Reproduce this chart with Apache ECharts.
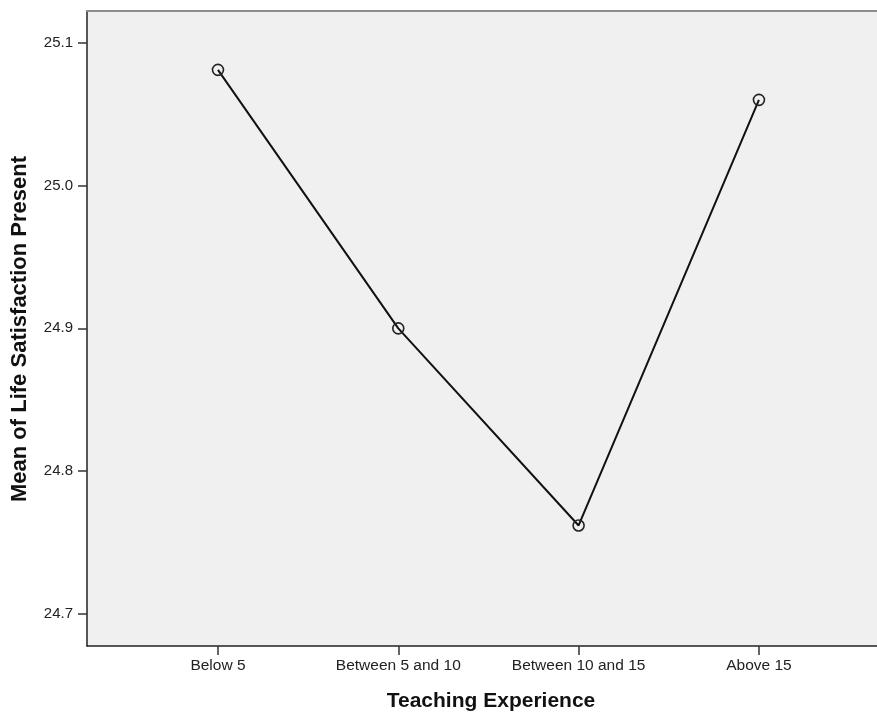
<!DOCTYPE html>
<html>
<head>
<meta charset="utf-8">
<script src="https://cdn.jsdelivr.net/npm/echarts@6/dist/echarts.min.js"></script>
<style>html,body{margin:0;padding:0;background:#fff;}#c{width:877px;height:715px;}</style>
</head>
<body>
<div id="c"></div>
<script>
const categories = ['Below 5', 'Between 5 and 10', 'Between 10 and 15', 'Above 15'];
const means = [25.081, 24.900, 24.762, 25.060];
const yTicks = [24.7, 24.8, 24.9, 25.0, 25.1];
const yMin = 24.6776, yMax = 25.1222;
const xTitle = 'Teaching Experience';
const yTitle = 'Mean of Life Satisfaction Present';

const FONT = '"Liberation Sans", Arial, sans-serif';
const chart = echarts.init(document.getElementById('c'), null, {renderer: 'canvas'});
chart.setOption({
  animation: false,
  backgroundColor: '#ffffff',
  grid: [
    {left: 87, top: 11, right: 0, bottom: 69, show: true, backgroundColor: '#f0f0f0', borderWidth: 0},
    {left: 127.8, top: 11, width: 721.3, bottom: 69, show: false}
  ],
  xAxis: [
    {gridIndex: 0, type: 'value', min: 0, max: 1, position: 'bottom',
     axisLine: {show: true, onZero: false, lineStyle: {color: '#222', width: 1.5}},
     axisTick: {show: false}, axisLabel: {show: false}, splitLine: {show: false}},
    {gridIndex: 0, type: 'value', min: 0, max: 1, position: 'top',
     axisLine: {show: true, onZero: false, lineStyle: {color: '#8c8c8c', width: 2}},
     axisTick: {show: false}, axisLabel: {show: false}, splitLine: {show: false}},
    {gridIndex: 1, type: 'category', data: categories, boundaryGap: true, position: 'bottom',
     axisLine: {show: false},
     axisTick: {show: true, alignWithLabel: true, length: 9, lineStyle: {color: '#333', width: 1.5}},
     axisLabel: {color: '#222', fontFamily: FONT, fontSize: 15.5, margin: 12, interval: 0},
     splitLine: {show: false}}
  ],
  yAxis: [
    {gridIndex: 0, type: 'value', min: yMin, max: yMax,
     axisLine: {show: true, onZero: false, lineStyle: {color: '#222', width: 1.5}},
     axisTick: {show: true, length: 9, customValues: yTicks, lineStyle: {color: '#333', width: 1.5}},
     axisLabel: {customValues: yTicks, color: '#222', fontFamily: FONT, fontSize: 15, margin: 14,
                 formatter: v => v.toFixed(1)},
     splitLine: {show: false}},
    {gridIndex: 1, type: 'value', min: yMin, max: yMax, show: false}
  ],
  graphic: [
    {type: 'text', silent: true, x: 491, y: 701,
     style: {text: xTitle, x: 0, y: 0, align: 'center', verticalAlign: 'middle',
             font: 'bold 21px ' + FONT, fill: '#111'}},
    {type: 'text', silent: true, rotation: Math.PI / 2, x: 20, y: 329,
     style: {text: yTitle, x: 0, y: 0, align: 'center', verticalAlign: 'middle',
             font: 'bold 22px ' + FONT, fill: '#111'}}
  ],
  series: [{
    type: 'line', xAxisIndex: 2, yAxisIndex: 1, data: means,
    symbol: 'circle', symbolSize: 11, showAllSymbol: true,
    lineStyle: {color: '#111', width: 2},
    itemStyle: {color: 'rgba(0,0,0,0)', borderColor: '#222', borderWidth: 1.6},
    z: 5
  }]
});
</script>
</body>
</html>
